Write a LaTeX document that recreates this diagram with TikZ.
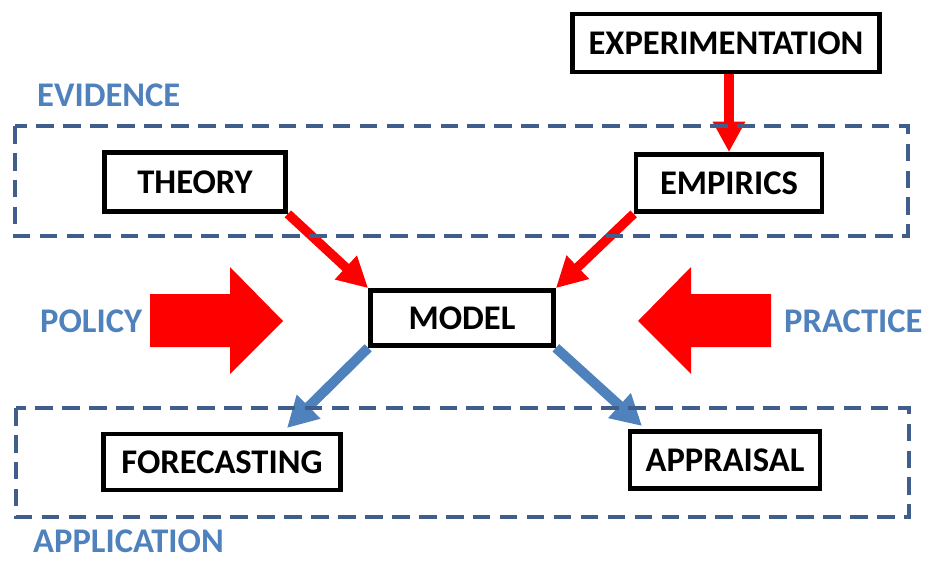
\documentclass[tikz,border=0pt]{standalone}
\usepackage{fontspec}
\setmainfont{Carlito}
\usetikzlibrary{arrows.meta}
\definecolor{labelblue}{HTML}{4F81BD}
\definecolor{dashblue}{HTML}{3F5E8C}
\definecolor{flowred}{HTML}{FF0000}
\begin{document}
\begin{tikzpicture}[x=0.03cm,y=-0.03cm,
    stage/.style={draw=black, line width=4pt, fill=white, inner sep=0pt,
        font=\fontsize{29.5}{31}\selectfont\bfseries},
    grouplabel/.style={text=labelblue, anchor=west, inner sep=0pt,
        font=\fontsize{29.5}{31}\selectfont\bfseries},
    group/.style={draw=dashblue, line width=4pt, dash pattern=on 15pt off 8pt},
    feed/.style={flowred, line width=8pt, -{Triangle[length=26pt,width=26pt]}},
    outflow/.style={labelblue, line width=8.5pt, -{Triangle[length=26pt,width=27pt]}}]
    \useasboundingbox (0,0) rectangle (925,562);

    % boxes
    \node[stage, minimum width=9.21cm, minimum height=1.74cm] (expt) at (726,43) {EXPERIMENTATION};
    \node[stage, minimum width=5.43cm, minimum height=1.77cm] (theory) at (195,182) {THEORY};
    \node[stage, minimum width=5.58cm, minimum height=1.71cm] (empirics) at (729,183) {EMPIRICS};
    \node[stage, minimum width=5.49cm, minimum height=1.65cm] (model) at (462,318) {MODEL};
    \node[stage, minimum width=7.11cm, minimum height=1.68cm] (forecast) at (222,462) {FORECASTING};
    \node[stage, minimum width=5.70cm, minimum height=1.71cm] (appraisal) at (725,460) {APPRAISAL};

    % labels
    \node[grouplabel] (evidence) at (37,95) {EVIDENCE};
    \node[grouplabel] (policy) at (40,321) {POLICY};
    \node[grouplabel] (practice) at (784,321) {PRACTICE};
    \node[grouplabel] (application) at (33,541) {APPLICATION};

    % fat arrows
    \foreach \tipx/\dir in {283/1, 638/-1}
    \fill[flowred] (\tipx,321) -- ++(-53*\dir,-54) -- ++(0,27) -- ++(-80*\dir,0)
        -- ++(0,53) -- ++(80*\dir,0) -- ++(0,27) -- cycle;

    % connectors
    \coordinate (forecasttip) at (287,428);
    \coordinate (appraisaltip) at (642,426);
    \draw[feed] (expt.south -| empirics) -- (empirics.north);
    \draw[feed] (theory.south east) -- (model.north west);
    \draw[feed] (empirics.south west) -- (model.north east);
    \draw[outflow] (model.south west) -- (forecasttip);
    \draw[outflow] (model.south east) -- (appraisaltip);

    % groups
    \draw[group] (15,126) rectangle (908,236);
    \draw[group] (16,408) rectangle (909,517);
    %\draw[loosely dotted] (0,0) grid[step=50] (925,562);
\end{tikzpicture}
\end{document}
